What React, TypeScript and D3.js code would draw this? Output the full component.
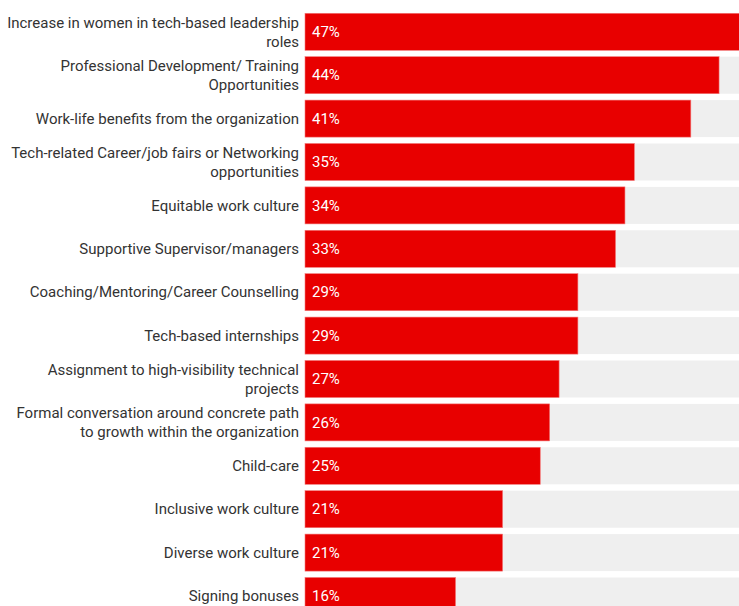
import React from "react";
import * as d3 from "d3";

const categories: string[] = [
  "Increase in women in tech-based leadership\nroles",
  "Professional Development/ Training\nOpportunities",
  "Work-life benefits from the organization",
  "Tech-related Career/job fairs or Networking\nopportunities",
  "Equitable work culture",
  "Supportive Supervisor/managers",
  "Coaching/Mentoring/Career Counselling",
  "Tech-based internships",
  "Assignment to high-visibility technical\nprojects",
  "Formal conversation around concrete path\nto growth within the organization",
  "Child-care",
  "Inclusive work culture",
  "Diverse work culture",
  "Signing bonuses",
];
const values: number[] = [47, 44, 41, 35, 34, 33, 29, 29, 27, 26, 25, 21, 21, 16];
const valueLabels: string[] = values.map((v) => `${v}%`);

const W = 739;
const H = 606;

export default function App() {
  const x = d3.scaleLinear().domain([0, 47]).range([305, 747.3]);
  const y = d3
    .scaleBand<string>()
    .domain(categories)
    .range([10.1, 10.1 + 14 * 43.4])
    .paddingInner(0.147)
    .paddingOuter(0.0735);
  const bw = y.bandwidth();
  const font = "Roboto, 'Noto Sans', sans-serif";
  return (
    <svg
      width={W}
      height={H}
      style={{ position: "absolute", left: 0, top: 0, display: "block" }}
    >
      <rect x={0} y={0} width={W} height={H} fill="#ffffff" />
      {categories.map((c, i) => {
        const y0 = y(c)!;
        const cy = y0 + bw / 2;
        const lines = c.split("\n");
        const lh = 19;
        return (
          <g key={c}>
            <rect x={x(0)} y={y0} width={W - x(0)} height={bw} fill="#efefef" />
            <rect
              x={x(0)}
              y={y0}
              width={x(values[i]) - x(0)}
              height={bw}
              fill="#e80000"
              stroke="#f47a7a"
              strokeWidth={0.6}
            />
            <text
              x={x(0) + 7}
              y={cy}
              dy="0.35em"
              fill="#ffffff"
              fontFamily={font}
              fontSize={15}
            >
              {valueLabels[i]}
            </text>
            {lines.map((ln, j) => (
              <text
                key={j}
                x={299}
                y={cy + (j - (lines.length - 1) / 2) * lh}
                dy="0.35em"
                textAnchor="end"
                fill="#333333"
                fontFamily={font}
                fontSize={15}
              >
                {ln}
              </text>
            ))}
          </g>
        );
      })}
    </svg>
  );
}
